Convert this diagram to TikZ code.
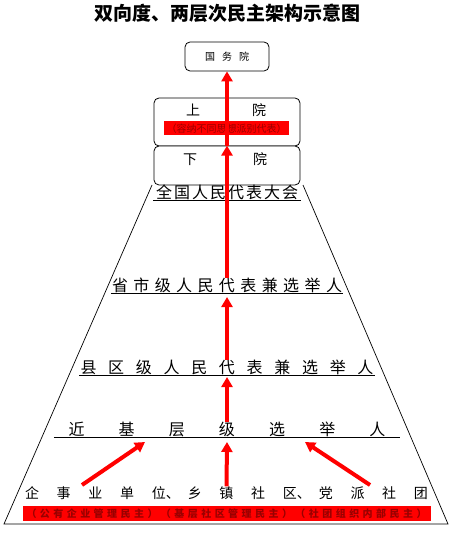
\documentclass[tikz,border=0pt]{standalone}
\usepackage{fontspec}
\setmainfont{Noto Sans CJK SC}
\usetikzlibrary{arrows.meta, positioning, calc}
\definecolor{bartext}{HTML}{990000}
\definecolor{uprise}{HTML}{FF0000}
\newcommand{\spreadchars}[2]{\makebox[#1][s]{\foreach \ch [count=\k] in {#2}{\ifnum\k>1 \hfill\fi\ch}}}

\begin{document}
\begin{tikzpicture}[
    x=1pt, y=-1pt,
    house/.style={rectangle, draw, fill=white, rounded corners=5pt,
                  line width=0.8pt, minimum width=146, inner sep=0},
    level/.style={inner sep=0, font=\fontsize{16}{16}\selectfont},
    redbar/.style={fill=uprise, text=bartext, inner sep=0, minimum height=14},
    uparrow/.style={-{Triangle[length=10pt, width=11pt]}, line width=4pt, color=uprise},
    frame/.style={line width=0.7pt}
]
\useasboundingbox (0,0) rectangle (450,534);

\node[font=\fontsize{19}{19}\selectfont\bfseries] (title) at (227,13) {双向度、两层次民主架构示意图};

% pyramid outline
\draw[frame] (152,185) -- (4,524) -- (448,524) -- (303,185);

% upper stack
\node[house, minimum width=84, minimum height=29, font=\fontsize{10}{10}\selectfont] (guowu) at (227,56.5) {\spreadchars{44pt}{国,务,院}};
\node[house, minimum height=48] (shangyuan) at (227,122) {};
\node[font=\fontsize{14}{14}\selectfont] (shangtext) at (226,110) {\spreadchars{80pt}{上,院}};
\node[redbar, minimum width=125, font=\fontsize{10}{10}\selectfont] (pluralism) at (226.5,128.5) {（容纳不同思想派别代表）};
\node[house, minimum height=39] (xiayuan) at (227,165.5) {};
\node[font=\fontsize{14}{14}\selectfont] (xiatext) at (225,159) {\spreadchars{84pt}{下,院}};

% levels
\node[level, minimum width=147, anchor=south] (quanguo) at (227,200) {\spreadchars{142pt}{全,国,人,民,代,表,大,会}};
\node[level, minimum width=232, anchor=south] (shengshi) at (227,293) {\spreadchars{230pt}{省,市,级,人,民,代,表,兼,选,举,人}};
\node[level, minimum width=295, anchor=south] (xianqu) at (227,375) {\spreadchars{293pt}{县,区,级,人,民,代,表,兼,选,举,人}};
\node[level, minimum width=346, anchor=south] (jinji) at (227,437) {\spreadchars{317pt}{近,基,层,级,选,举,人}};
\foreach \row in {quanguo, shengshi, xianqu, jinji}
    \draw[frame] (\row.south west) -- (\row.south east);

\node[inner sep=0, font=\fontsize{14}{14}\selectfont] (qiye) at (226.5,493) {\spreadchars{403pt}{企,事,业,单,{位\makebox[4pt][l]{、}},乡,镇,社,{区\makebox[4pt][l]{、}},党,派,社,团}};
\node[redbar, minimum width=408, minimum height=15, font=\fontsize{10}{10}\selectfont\bfseries] (minzhu) at (226.5,513.5) {\spreadchars{400pt}{（,公,有,企,业,管,理,民,主,）,（,基,层,社,区,管,理,民,主,）,（,社,团,组,织,内,部,民,主,）}};

\coordinate (leftfoot) at (82,485);
\coordinate (lefttip) at (145,442);
\coordinate (rightfoot) at (370,485);
\coordinate (righttip) at (305,442);

% upward flow
\draw[uparrow] (xiayuan.north) -- (guowu.south);
\draw[uparrow] (shengshi.north) -- (xiayuan.north);
\draw[uparrow] (xianqu.north) -- ([yshift=-4]shengshi.south);
\draw[uparrow] (jinji.north) -- ([yshift=-2]xianqu.south);
\draw[uparrow] (qiye.north) -- ([yshift=-5]jinji.south);
\draw[uparrow] (leftfoot) -- (lefttip);
\draw[uparrow] (rightfoot) -- (righttip);

\end{tikzpicture}
\end{document}
